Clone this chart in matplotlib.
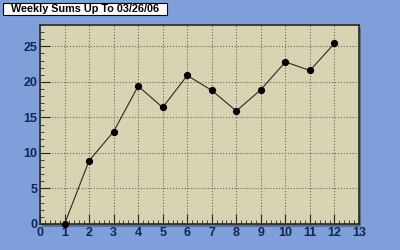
import matplotlib.pyplot as plt
from matplotlib.ticker import MultipleLocator
from matplotlib.patches import Rectangle

title = 'Weekly Sums Up To 03/26/06'
weeks = [1, 2, 3, 4, 5, 6, 7, 8, 9, 10, 11, 12]
sums = [0, 8.9, 13.0, 19.4, 16.4, 20.9, 18.8, 15.9, 18.9, 22.8, 21.6, 25.4]

bg = '#7f9fdb'
face = '#d8d3b3'
label_col = '#14234f'

plt.rcParams['font.family'] = ['Liberation Sans', 'DejaVu Sans']

fig = plt.figure(figsize=(4, 2.5), dpi=100, facecolor=bg)
ax = fig.add_axes([0.1, 0.104, 0.7975, 0.796])
ax.set_facecolor(face)

# drop shadow behind the plot area
fig.patches.append(Rectangle((0.1 + 0.006, 0.104 - 0.01), 0.7975, 0.796,
                             transform=fig.transFigure, facecolor='#5a6f9a',
                             edgecolor='none', zorder=-1))

ax.plot(weeks, sums, color='#2b2a1e', lw=0.8, marker='o', ms=4.2,
        mfc='black', mec='black', zorder=3, clip_on=False)

ax.set_xlim(0, 13)
ax.set_ylim(0, 28)
ax.xaxis.set_major_locator(MultipleLocator(1))
ax.xaxis.set_minor_locator(MultipleLocator(0.2))
ax.yaxis.set_major_locator(MultipleLocator(5))
ax.yaxis.set_minor_locator(MultipleLocator(1))
ax.tick_params(which='both', direction='in', colors='#2b2a1e',
               labelcolor=label_col, labelsize=9, pad=2)
ax.tick_params(which='major', length=7, width=0.8)
ax.tick_params(which='minor', length=3, width=0.6)
for lab in ax.get_xticklabels() + ax.get_yticklabels():
    lab.set_fontweight('bold')

ax.grid(True, which='major', ls=':', color='#6e6a55', lw=0.8)
for s in ax.spines.values():
    s.set_color('#2b2a1e')
    s.set_linewidth(1.2)

# title box
fig.patches.append(Rectangle((3 / 400, 1 - 15 / 250), 164 / 400, 12 / 250,
                             transform=fig.transFigure, facecolor='white',
                             edgecolor='black', lw=0.8))
fig.text(85 / 400, 1 - 9 / 250, title, fontsize=7.8, fontweight='bold',
         color='black', va='center', ha='center')

fig.savefig('out.png', dpi=100, facecolor=bg)
